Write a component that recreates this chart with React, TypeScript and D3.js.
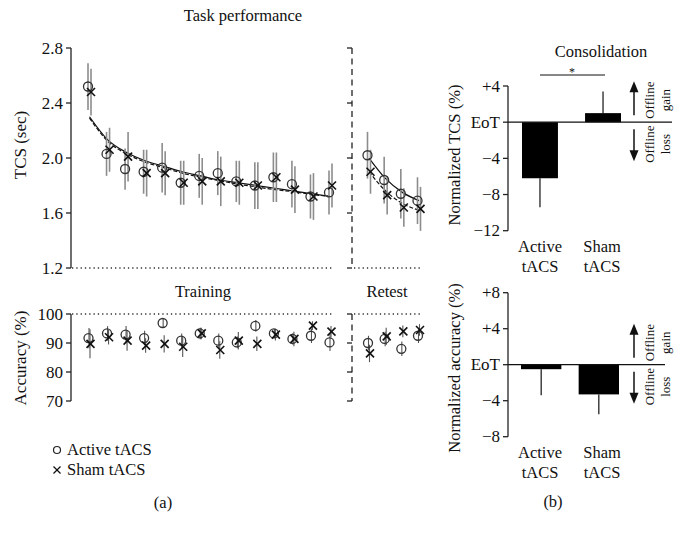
import React from "react";
import * as d3 from "d3";

// ---------- data ----------
const trainSessions = [1, 2, 3, 4, 5, 6, 7, 8, 9, 10, 11, 12, 13, 14];
const retestSessions = [1, 2, 3, 4];

const tcsActiveTrain = [2.52, 2.03, 1.92, 1.9, 1.93, 1.82, 1.87, 1.89, 1.83, 1.8, 1.86, 1.81, 1.72, 1.75];
const tcsShamTrain = [2.48, 2.06, 2.01, 1.89, 1.89, 1.82, 1.83, 1.83, 1.82, 1.8, 1.86, 1.77, 1.72, 1.8];
const tcsActiveTrainErr = [0.17, 0.16, 0.15, 0.16, 0.18, 0.16, 0.16, 0.16, 0.15, 0.17, 0.18, 0.17, 0.16, 0.16];
const tcsShamTrainErr = [0.17, 0.16, 0.18, 0.17, 0.16, 0.16, 0.17, 0.18, 0.16, 0.17, 0.18, 0.17, 0.17, 0.16];
const tcsActiveRetest = [2.02, 1.84, 1.74, 1.69];
const tcsShamRetest = [1.9, 1.73, 1.64, 1.63];
const tcsActiveRetestErr = [0.17, 0.17, 0.18, 0.17];
const tcsShamRetestErr = [0.16, 0.14, 0.14, 0.16];

const fitActiveTrain = [2.3, 2.13, 2.04, 1.98, 1.94, 1.9, 1.87, 1.84, 1.82, 1.8, 1.78, 1.76, 1.74, 1.72];
const fitShamTrain = [2.29, 2.12, 2.03, 1.97, 1.93, 1.89, 1.86, 1.835, 1.81, 1.79, 1.77, 1.755, 1.735, 1.72];
const fitActiveRetest = [2.0, 1.85, 1.75, 1.69];
const fitShamRetest = [1.9, 1.76, 1.67, 1.62];

const accActiveTrain = [91.7, 93.3, 92.9, 91.7, 96.9, 90.8, 93.3, 90.8, 90.2, 95.9, 93.3, 91.4, 92.5, 90.2];
const accShamTrain = [89.7, 92.0, 90.8, 89.1, 89.7, 88.7, 93.3, 87.6, 90.8, 89.7, 92.9, 91.4, 96.0, 93.9];
const accActiveTrainErr = [3.5, 2.5, 3, 2.5, 1.5, 2.5, 2, 2.5, 2, 2, 1.5, 2, 2.5, 3];
const accShamTrainErr = [5, 2.5, 3.5, 2.5, 3, 3.5, 2, 3, 3, 2.5, 2, 2.5, 1.5, 2];
const accActiveRetest = [90.0, 91.4, 88.0, 92.5];
const accShamRetest = [86.4, 92.3, 94.0, 94.5];
const accActiveRetestErr = [2.5, 2.5, 2.5, 2.5];
const accShamRetestErr = [3, 3, 2, 2];

const groups = ["Active tACS", "Sham tACS"];
const normTCS = [-6.2, 1.0];
const normTCSErr = [3.2, 2.4];
const normAcc = [-0.5, -3.3];
const normAccErr = [2.9, 2.2];

const tcsTicks = [1.2, 1.6, 2.0, 2.4, 2.8];
const accTicks = [70, 80, 90, 100];
const normTCSTicks = [-12, -8, -4, 0, 4];
const normAccTicks = [-8, -4, 0, 4, 8];

// ---------- helpers ----------
const FONT = "'Liberation Serif', 'DejaVu Serif', serif";
const fmtNorm = (v: number) => (v === 0 ? "EoT" : v > 0 ? `+${v}` : `\u2212${Math.abs(v)}`);

function Cross({ x, y, s = 4, sw = 1.6 }: { x: number; y: number; s?: number; sw?: number }) {
  return (
    <g stroke="#111" strokeWidth={sw}>
      <line x1={x - s} y1={y - s} x2={x + s} y2={y + s} />
      <line x1={x - s} y1={y + s} x2={x + s} y2={y - s} />
    </g>
  );
}

export default function App() {
  const xTrain = d3.scalePoint<number>().domain(trainSessions).range([89.5, 330.5]);
  const xRetest = d3.scalePoint<number>().domain(retestSessions).range([369, 419]);
  const yTCS = d3.scaleLinear().domain([1.2, 2.8]).range([268, 48]);
  const yAcc = d3.scaleLinear().domain([70, 100]).range([401, 314]);
  const yNT = d3.scaleLinear().domain([-12, 4]).range([230.7, 86]);
  const yNA = d3.scaleLinear().domain([-8, 8]).range([436.7, 292.7]);
  const xBarTop = d3.scaleBand<string>().domain(groups).range([522, 621]).paddingInner(0.43);
  const xBarBot = d3.scaleBand<string>().domain(groups).range([521, 619]).paddingInner(0.3);

  const fitLine = (xs: d3.ScalePoint<number>, sess: number[]) =>
    d3
      .line<number>()
      .x((_, i) => xs(sess[i])!)
      .y((d) => yTCS(d))
      .curve(d3.curveMonotoneX);

  const axisX = 71;
  const retestAxisX = 352;
  const trainEnd = 333;
  const retestEnd = 422;

  const leftAxis = (x: number, scale: d3.ScaleLinear<number, number>, ticks: number[], labels: boolean, fmt: (v: number) => string, dashed = false) => (
    <g>
      <line
        x1={x}
        x2={x}
        y1={scale(ticks[ticks.length - 1])}
        y2={scale(ticks[0])}
        stroke="#222"
        strokeWidth={1.3}
        strokeDasharray={dashed ? "6 4.5" : undefined}
      />
      {ticks.map((t) => (
        <g key={t}>
          <line x1={x - 5} x2={x} y1={scale(t)} y2={scale(t)} stroke="#222" strokeWidth={1.3} />
          {labels && (
            <text x={x - 8} y={scale(t)} dy="0.34em" textAnchor="end" fontSize={17}>
              {fmt(t)}
            </text>
          )}
        </g>
      ))}
    </g>
  );

  const tcsPoints = (
    xs: d3.ScalePoint<number>,
    sess: number[],
    act: number[],
    actErr: number[],
    sham: number[],
    shamErr: number[]
  ) => (
    <g>
      {sess.map((s, i) => (
        <g key={"e" + s}>
          <line x1={xs(s)! - 1.5} x2={xs(s)! - 1.5} y1={yTCS(act[i] + actErr[i])} y2={yTCS(act[i] - actErr[i])} stroke="#8c8c8c" strokeWidth={1.6} />
          <line x1={xs(s)! + 1.5} x2={xs(s)! + 1.5} y1={yTCS(sham[i] + shamErr[i])} y2={yTCS(sham[i] - shamErr[i])} stroke="#8c8c8c" strokeWidth={1.6} />
        </g>
      ))}
      {sess.map((s, i) => (
        <circle key={"c" + s} cx={xs(s)! - 1.5} cy={yTCS(act[i])} r={4.5} fill="none" stroke="#333" strokeWidth={1.3} />
      ))}
      {sess.map((s, i) => (
        <Cross key={"x" + s} x={xs(s)! + 1.5} y={yTCS(sham[i])} />
      ))}
    </g>
  );

  const accPoints = (
    xs: d3.ScalePoint<number>,
    sess: number[],
    act: number[],
    actErr: number[],
    sham: number[],
    shamErr: number[]
  ) => (
    <g>
      {sess.map((s, i) => (
        <g key={"e" + s}>
          <line x1={xs(s)! - 0.5} x2={xs(s)! - 0.5} y1={yAcc(act[i] + actErr[i])} y2={yAcc(act[i] - actErr[i])} stroke="#555" strokeWidth={1.1} />
          <line x1={xs(s)! + 0.5} x2={xs(s)! + 0.5} y1={yAcc(sham[i] + shamErr[i])} y2={yAcc(sham[i] - shamErr[i])} stroke="#555" strokeWidth={1.1} />
        </g>
      ))}
      {sess.map((s, i) => (
        <circle key={"c" + s} cx={xs(s)! - 1} cy={yAcc(act[i])} r={4.5} fill="none" stroke="#333" strokeWidth={1.3} />
      ))}
      {sess.map((s, i) => (
        <Cross key={"x" + s} x={xs(s)! + 1} y={yAcc(sham[i])} />
      ))}
    </g>
  );

  const barPanel = (
    yS: d3.ScaleLinear<number, number>,
    xB: d3.ScaleBand<string>,
    vals: number[],
    errs: number[],
    ticks: number[],
    zeroEnd: number,
    label: string,
    labelY: number
  ) => {
    const z = yS(0);
    return (
      <g>
        {leftAxis(508, yS, ticks, true, fmtNorm)}
        {groups.map((g, i) => {
          const v = vals[i];
          const x0 = xB(g)!;
          const w = xB.bandwidth();
          const cx = x0 + w / 2;
          const tip = v + (v >= 0 ? errs[i] : -errs[i]);
          return (
            <g key={g}>
              <line x1={cx} x2={cx} y1={yS(v)} y2={yS(tip)} stroke="#111" strokeWidth={1.2} />
              <rect x={x0} width={w} y={Math.min(yS(v), z)} height={Math.abs(yS(v) - z)} fill="#000" />
            </g>
          );
        })}
        <line x1={508} x2={zeroEnd} y1={z} y2={z} stroke="#111" strokeWidth={1.2} />
        {/* arrows */}
        <line x1={634} x2={634} y1={z - 7} y2={z - 32} stroke="#111" strokeWidth={1.5} />
        <path d={`M${634 - 4.5},${z - 30} L${634 + 4.5},${z - 30} L634,${z - 41} Z`} fill="#111" />
        <line x1={634} x2={634} y1={z + 7} y2={z + 30} stroke="#111" strokeWidth={1.5} />
        <path d={`M${634 - 4.5},${z + 28} L${634 + 4.5},${z + 28} L634,${z + 39} Z`} fill="#111" />
        <text transform={`translate(654,${z - 22}) rotate(-90)`} textAnchor="middle" fontSize={13}>
          Offline
        </text>
        <text transform={`translate(670,${z - 22}) rotate(-90)`} textAnchor="middle" fontSize={13}>
          gain
        </text>
        <text transform={`translate(654,${z + 22}) rotate(-90)`} textAnchor="middle" fontSize={13}>
          Offline
        </text>
        <text transform={`translate(670,${z + 22}) rotate(-90)`} textAnchor="middle" fontSize={13}>
          loss
        </text>
        {/* y label */}
        <text transform={`translate(460,${labelY}) rotate(-90)`} textAnchor="middle" fontSize={16.5}>
          {label}
        </text>
        {/* x labels */}
        {[
          ["Active", "tACS", 540],
          ["Sham", "tACS", 602],
        ].map(([a, b, x]) => (
          <g key={a as string}>
            <text x={x as number} y={yS.range()[0] + 21} textAnchor="middle" fontSize={16.5}>
              {a}
            </text>
            <text x={x as number} y={yS.range()[0] + 41} textAnchor="middle" fontSize={16.5}>
              {b}
            </text>
          </g>
        ))}
      </g>
    );
  };

  return (
    <svg width={682} height={535} style={{ position: "absolute", left: 0, top: 0, background: "#fff" }} fontFamily={FONT} fill="#111">
      <rect width={682} height={535} fill="#fff" />
      {/* ---------- (a) TCS ---------- */}
      <text x={243} y={21} textAnchor="middle" fontSize={16.5}>
        Task performance
      </text>
      <text transform={`translate(26,145) rotate(-90)`} textAnchor="middle" fontSize={17}>
        TCS (sec)
      </text>
      {leftAxis(axisX, yTCS, tcsTicks, true, (v) => v.toFixed(1))}
      {leftAxis(retestAxisX, yTCS, tcsTicks, false, (v) => v.toFixed(1), true)}
      <line x1={axisX + 1} x2={trainEnd} y1={yTCS(1.2)} y2={yTCS(1.2)} stroke="#333" strokeWidth={1.3} strokeDasharray="1.3 3" />
      <line x1={retestAxisX + 2} x2={retestEnd} y1={yTCS(1.2)} y2={yTCS(1.2)} stroke="#333" strokeWidth={1.3} strokeDasharray="1.3 3" />

      <path d={fitLine(xTrain, trainSessions)(fitShamTrain) || ""} fill="none" stroke="#111" strokeWidth={1.2} strokeDasharray="4 2" />
      <path d={fitLine(xTrain, trainSessions)(fitActiveTrain) || ""} fill="none" stroke="#111" strokeWidth={1.2} />
      <path d={fitLine(xRetest, retestSessions)(fitShamRetest) || ""} fill="none" stroke="#111" strokeWidth={1.2} strokeDasharray="4 2" />
      <path d={fitLine(xRetest, retestSessions)(fitActiveRetest) || ""} fill="none" stroke="#111" strokeWidth={1.2} />

      {tcsPoints(xTrain, trainSessions, tcsActiveTrain, tcsActiveTrainErr, tcsShamTrain, tcsShamTrainErr)}
      {tcsPoints(xRetest, retestSessions, tcsActiveRetest, tcsActiveRetestErr, tcsShamRetest, tcsShamRetestErr)}

      {/* ---------- (a) Accuracy ---------- */}
      <text x={203} y={297} textAnchor="middle" fontSize={16.5}>
        Training
      </text>
      <text x={387} y={297} textAnchor="middle" fontSize={16.5}>
        Retest
      </text>
      <text transform={`translate(26,358) rotate(-90)`} textAnchor="middle" fontSize={17}>
        Accuracy (%)
      </text>
      {leftAxis(axisX, yAcc, accTicks, true, (v) => String(v))}
      {leftAxis(retestAxisX, yAcc, accTicks, false, (v) => String(v), true)}
      <line x1={axisX + 1} x2={trainEnd} y1={yAcc(100)} y2={yAcc(100)} stroke="#333" strokeWidth={1.3} strokeDasharray="1.3 3" />
      <line x1={retestAxisX + 2} x2={retestEnd} y1={yAcc(100)} y2={yAcc(100)} stroke="#333" strokeWidth={1.3} strokeDasharray="1.3 3" />
      {accPoints(xTrain, trainSessions, accActiveTrain, accActiveTrainErr, accShamTrain, accShamTrainErr)}
      {accPoints(xRetest, retestSessions, accActiveRetest, accActiveRetestErr, accShamRetest, accShamRetestErr)}

      {/* legend */}
      <circle cx={57} cy={450} r={3.5} fill="none" stroke="#222" strokeWidth={1.2} />
      <text x={67} y={455} fontSize={16.5}>
        Active tACS
      </text>
      <Cross x={57} y={470} s={3.5} sw={1.3} />
      <text x={67} y={475} fontSize={16.5}>
        Sham tACS
      </text>
      <text x={163} y={508} textAnchor="middle" fontSize={16.5}>
        (a)
      </text>

      {/* ---------- (b) ---------- */}
      <text x={601} y={57} textAnchor="middle" fontSize={16.5}>
        Consolidation
      </text>
      <line x1={540} x2={605} y1={75} y2={75} stroke="#111" strokeWidth={1.2} />
      <text x={572} y={76} textAnchor="middle" fontSize={12}>
        *
      </text>
      {barPanel(yNT, xBarTop, normTCS, normTCSErr, normTCSTicks, 672, "Normalized TCS (%)", 155)}
      {barPanel(yNA, xBarBot, normAcc, normAccErr, normAccTicks, 665, "Normalized accuracy (%)", 368)}
      <text x={553} y={507} textAnchor="middle" fontSize={16.5}>
        (b)
      </text>
    </svg>
  );
}
